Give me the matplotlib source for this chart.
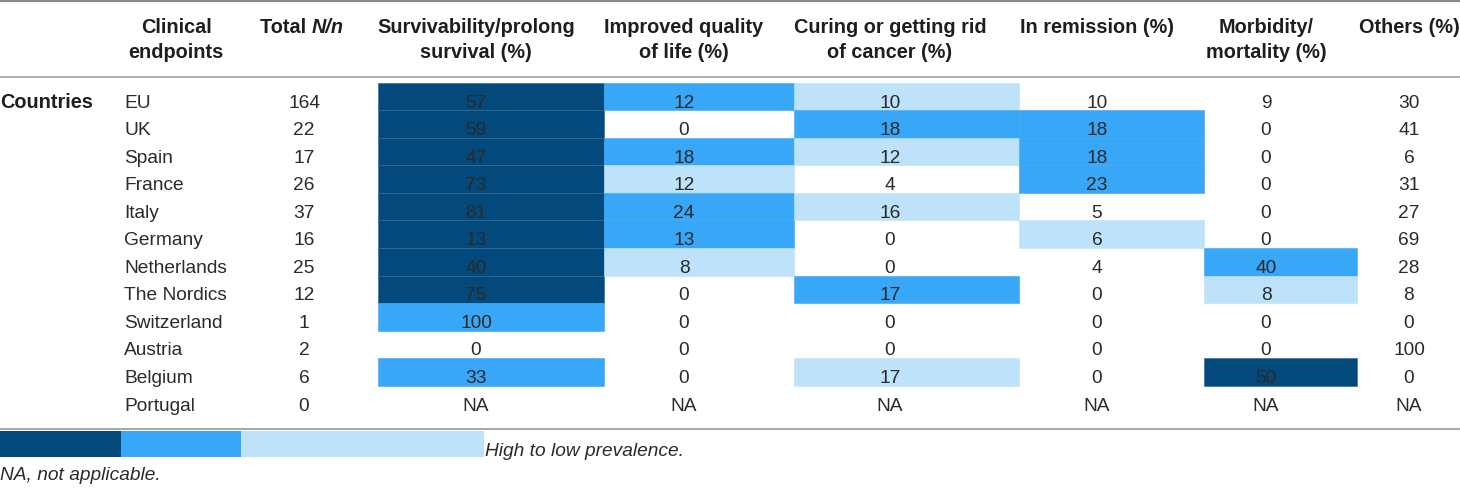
import matplotlib
matplotlib.use("Agg")
import matplotlib.pyplot as plt

# -----------------------------
# data
# -----------------------------
countries = ["EU", "UK", "Spain", "France", "Italy", "Germany", "Netherlands",
             "The Nordics", "Switzerland", "Austria", "Belgium", "Portugal"]
total_n = ["164", "22", "17", "26", "37", "16", "25", "12", "1", "2", "6", "0"]

survival = ["57", "59", "47", "73", "81", "13", "40", "75", "100", "0", "33", "NA"]
quality = ["12", "0", "18", "12", "24", "13", "8", "0", "0", "0", "0", "NA"]
curing = ["10", "18", "12", "4", "16", "0", "0", "17", "0", "0", "17", "NA"]
remission = ["10", "18", "18", "23", "5", "6", "4", "0", "0", "0", "0", "NA"]
morbidity = ["9", "0", "0", "0", "0", "0", "40", "8", "0", "0", "50", "NA"]
others = ["30", "41", "6", "31", "27", "69", "28", "8", "0", "100", "0", "NA"]

# prevalence shading per cell: 3 = high, 2 = mid, 1 = low, 0 = none
survival_lvl = [3, 3, 3, 3, 3, 3, 3, 3, 2, 0, 2, 0]
quality_lvl = [2, 0, 2, 1, 2, 2, 1, 0, 0, 0, 0, 0]
curing_lvl = [1, 2, 1, 0, 1, 0, 0, 2, 0, 0, 1, 0]
remission_lvl = [0, 2, 2, 2, 0, 1, 0, 0, 0, 0, 0, 0]
morbidity_lvl = [0, 0, 0, 0, 0, 0, 2, 1, 0, 0, 3, 0]

headers = [("Clinical", "endpoints"), None,
           ("Survivability/prolong", "survival (%)"),
           ("Improved quality", "of life (%)"),
           ("Curing or getting rid", "of cancer (%)"),
           ("In remission (%)", ""),
           ("Morbidity/", "mortality (%)"),
           ("Others (%)", "")]

# -----------------------------
# layout (pixel space)
# -----------------------------
W, H = 1460, 488
shade = {3: "#03497c", 2: "#39a7f7", 1: "#bde2f9"}
seam = {3: "#2c6893", 2: "#39a7f7", 1: "#bde2f9"}
ink = "#2a2a2a"
col_x = [176, 304, 476, 684, 890, 1097, 1266, 1409]
cell_edges = [378, 604, 794, 1019, 1204, 1357]
row0, row_h = 103, 27.55
cell_top0 = 82.7
fam = ["Liberation Sans", "DejaVu Sans"]

fig = plt.figure(figsize=(W / 100, H / 100), dpi=100)
ax = fig.add_axes([0, 0, 1, 1])
ax.set_xlim(0, W)
ax.set_ylim(H, 0)
ax.axis("off")

# shaded cells
levels = [survival_lvl, quality_lvl, curing_lvl, remission_lvl, morbidity_lvl]
for c, lv in enumerate(levels):
    left, right = cell_edges[c], cell_edges[c + 1]
    for i, l in enumerate(lv):
        if l:
            ax.bar(left, row_h, width=right - left, bottom=cell_top0 + i * row_h,
                   align="edge", color=shade[l], edgecolor=seam[l], linewidth=0.4)

# rules
ax.axhline(1, color="#8a8a8a", lw=1.6)
ax.axhline(77, color="#a8a8a8", lw=1.3)
ax.axhline(429, color="#a0a0a0", lw=1.3)

# headers
hdr = dict(fontsize=14.3, fontweight="bold", color="#1e1e1e", family=fam,
           ha="center", va="center")
for x, h in zip(col_x, headers):
    if h is None:
        continue
    ax.text(x, 27.5, h[0], **hdr)
    if h[1]:
        ax.text(x, 53, h[1], **hdr)
t1 = ax.text(260, 27.5, "Total ", **{**hdr, "ha": "left"})
fig.canvas.draw()
bb = t1.get_window_extent()
x_end = ax.transData.inverted().transform((bb.x1, bb.y0))[0]
ax.text(x_end, 27.5, "N/n", **{**hdr, "ha": "left", "fontstyle": "italic"})

ax.text(0, row0, "Countries", **{**hdr, "ha": "left"})

# body
body = dict(fontsize=13.8, color=ink, family=fam, va="center")
columns = [total_n, survival, quality, curing, remission, morbidity, others]
for i, name in enumerate(countries):
    y = row0 + i * row_h
    ax.text(124, y, name, ha="left", **body)
    for x, col in zip(col_x[1:], columns):
        ax.text(x, y, col[i], ha="center", **body)

# legend strip
ax.bar([0, 120.5, 241], 26, width=[120.5, 120.5, 243], bottom=430.5,
       align="edge", color=[shade[3], shade[2], shade[1]], linewidth=0)
ax.text(485, 452, "High to low prevalence.", ha="left", fontstyle="italic", **body)
ax.text(0, 476, "NA, not applicable.", ha="left", fontstyle="italic", **body)

fig.savefig("out.png", dpi=100)
